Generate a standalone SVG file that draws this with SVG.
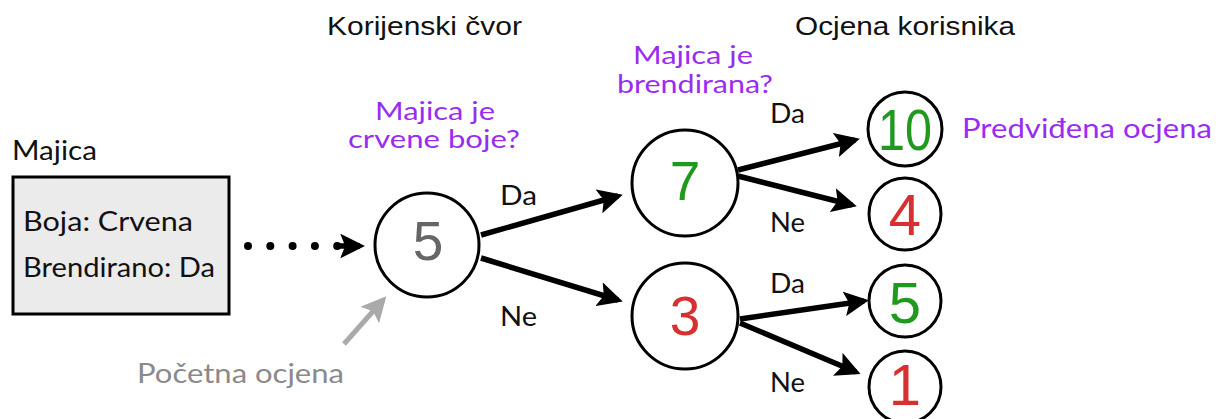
<svg xmlns="http://www.w3.org/2000/svg" width="1222" height="419" viewBox="0 0 1222 419">
<style>
text{font-family:"Lato","Open Sans","Liberation Sans",sans-serif;font-size:27px;fill:#111}
.h{font-family:"Liberation Sans",Arial,sans-serif;font-size:26px}
.q{fill:#9a2cf2;font-size:25px}
.n{stroke:#000;stroke-width:3;fill:#fff}
.big{font-family:"Liberation Sans",Arial,sans-serif;font-size:55px;text-anchor:middle}
.sm{font-family:"Liberation Sans",Arial,sans-serif;font-size:58px;text-anchor:middle}
.g{fill:#1f9a1f}
.r{fill:#d83030}
.c{stroke:#000;stroke-width:5.5;fill:none;marker-end:url(#ah)}
</style>
<defs>
<marker id="ah" viewBox="0 0 10 10" refX="8" refY="5" markerWidth="4.5" markerHeight="4.5" orient="auto" markerUnits="strokeWidth">
<path d="M0,0 L10,5 L0,10 L2,5 Z" fill="#000"/>
</marker>
<marker id="ahg" viewBox="0 0 10 10" refX="8" refY="5" markerWidth="5" markerHeight="5" orient="auto" markerUnits="strokeWidth">
<path d="M0,0 L10,5 L0,10 L2,5 Z" fill="#aaa"/>
</marker>
</defs>
<text class="h" x="327" y="35" textLength="195" lengthAdjust="spacingAndGlyphs">Korijenski čvor</text>
<text class="h" x="795" y="35" textLength="220" lengthAdjust="spacingAndGlyphs">Ocjena korisnika</text>
<g id="item">
<text x="12" y="160" textLength="85" lengthAdjust="spacingAndGlyphs">Majica</text>
<rect x="13" y="177" width="216" height="137" fill="#ebebeb" stroke="#000" stroke-width="3"/>
<text x="23" y="231" textLength="170" lengthAdjust="spacingAndGlyphs">Boja: Crvena</text>
<text x="23" y="277" textLength="192" lengthAdjust="spacingAndGlyphs">Brendirano: Da</text>
</g>
<g id="q1">
<text class="q" x="375" y="120" textLength="120" lengthAdjust="spacingAndGlyphs">Majica je</text>
<text class="q" x="348" y="148" textLength="172" lengthAdjust="spacingAndGlyphs">crvene boje?</text>
</g>
<g id="q2">
<text class="q" x="633" y="64" textLength="120" lengthAdjust="spacingAndGlyphs">Majica je</text>
<text class="q" x="617" y="93" textLength="156" lengthAdjust="spacingAndGlyphs">brendirana?</text>
</g>
<g id="root"><circle class="n" cx="427" cy="245" r="52"/><text class="big" x="428" y="260" style="fill:#666">5</text></g>
<g id="n7"><circle class="n" cx="685" cy="183" r="53"/><text class="big g" x="685" y="200">7</text></g>
<g id="n3"><circle class="n" cx="685" cy="316" r="53"/><text class="big r" x="685" y="335">3</text></g>
<g id="l10"><circle class="n" cx="905" cy="129" r="37"/><text class="sm g" x="905" y="150" textLength="54" lengthAdjust="spacingAndGlyphs">10</text></g>
<g id="l4"><circle class="n" cx="905" cy="214" r="36"/><text class="sm r" x="905" y="235">4</text></g>
<g id="l5"><circle class="n" cx="905" cy="301" r="36"/><text class="sm g" x="905" y="323">5</text></g>
<g id="l1"><circle class="n" cx="905" cy="387" r="36"/><text class="sm r" x="905" y="405">1</text></g>
<text class="q" x="962" y="138" style="font-size:27px" textLength="250" lengthAdjust="spacingAndGlyphs">Predviđena ocjena</text>
<text x="137" y="383" style="fill:#8a8a8a" textLength="207" lengthAdjust="spacingAndGlyphs">Početna ocjena</text>
<g id="connectors">
<path d="M248,246 L340,246" stroke="#000" stroke-width="8" stroke-linecap="round" stroke-dasharray="0,22.3" fill="none"/>
<path d="M338,246 L360,246" class="c"/>
<path class="c" d="M481,235 L618,196"/>
<path class="c" d="M481,258 L618,300"/>
<path class="c" d="M738,170 L855,140"/>
<path class="c" d="M738,176 L852,205"/>
<path class="c" d="M740,319 L864,301"/>
<path class="c" d="M740,323 L856,372"/>
<path d="M344,344 L383,300" stroke="#aaa" stroke-width="5" fill="none" marker-end="url(#ahg)"/>
<text x="500" y="205" textLength="37" lengthAdjust="spacingAndGlyphs">Da</text>
<text x="500" y="326" textLength="37" lengthAdjust="spacingAndGlyphs">Ne</text>
<text x="770" y="123" textLength="35" lengthAdjust="spacingAndGlyphs">Da</text>
<text x="770" y="232" textLength="35" lengthAdjust="spacingAndGlyphs">Ne</text>
<text x="770" y="293" textLength="35" lengthAdjust="spacingAndGlyphs">Da</text>
<text x="770" y="392" textLength="35" lengthAdjust="spacingAndGlyphs">Ne</text>
</g>
</svg>
